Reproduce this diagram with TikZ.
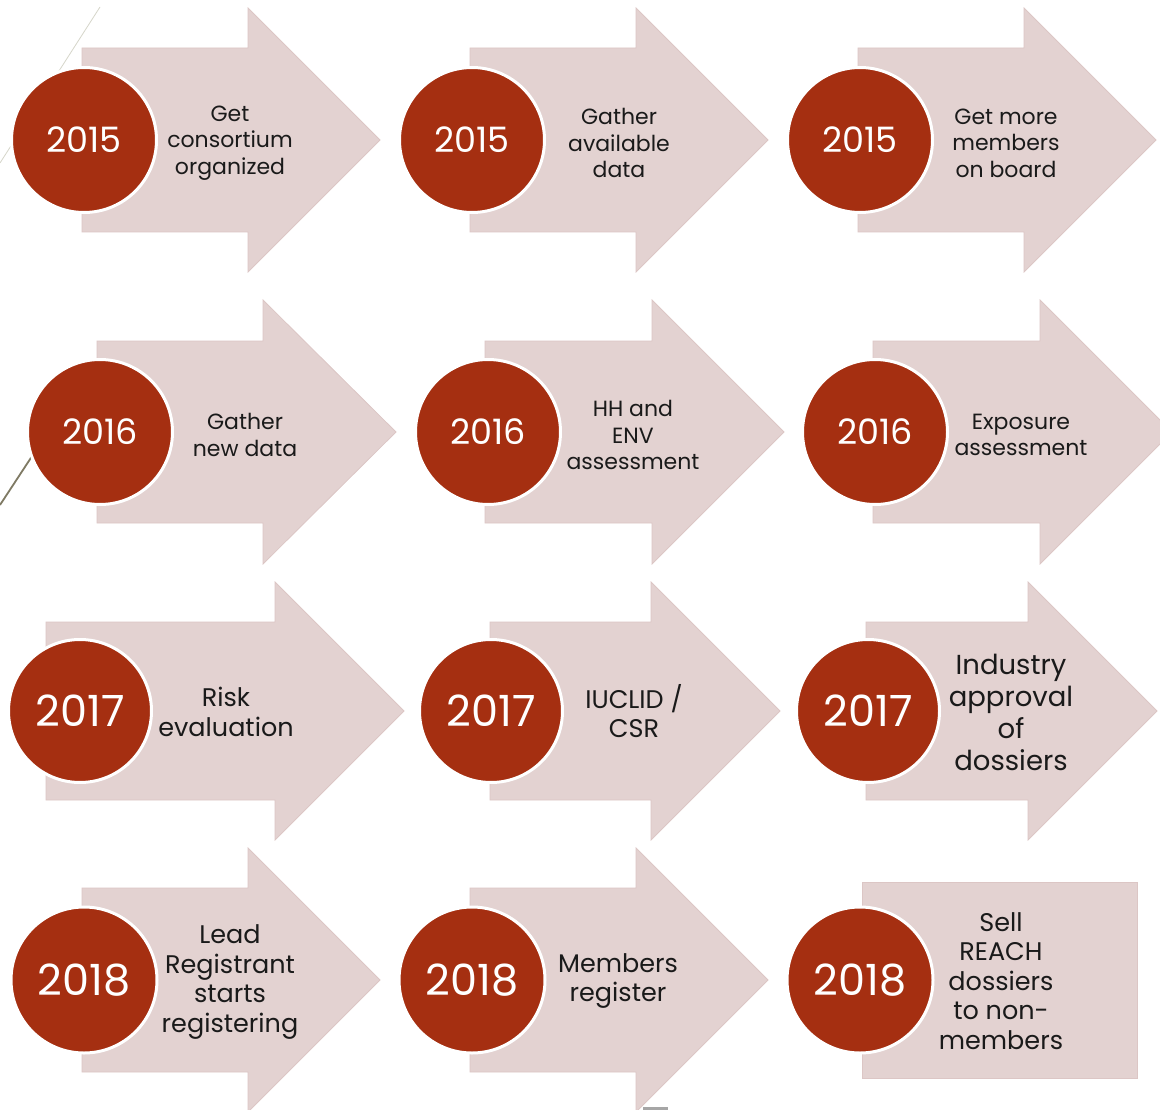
\documentclass[tikz,border=0pt]{standalone}
\usepackage{fontspec}
\setmainfont{Poppins}
\definecolor{arrowfill}{HTML}{E3D2D1}
\definecolor{arrowedge}{HTML}{DCC6C5}
\definecolor{yearred}{HTML}{A52F11}
\definecolor{strayA}{HTML}{D6D6CA}
\definecolor{strayB}{HTML}{7F7A64}
\definecolor{labeltext}{HTML}{1A1A1A}
\newcommand{\steparrow}[6]{%
  \path[arrowbody] (#1,#4-#5) -- (#2,#4-#5) -- (#2,#4-#6) -- (#3,#4)
    -- (#2,#4+#6) -- (#2,#4+#5) -- (#1,#4+#5) -- cycle;}
\tikzset{
  arrowbody/.style={fill=arrowfill, draw=arrowedge, line width=0.8pt},
  yearsmall/.style={circle, fill=yearred, draw=white, line width=3pt,
    minimum size=145pt, inner sep=0pt, text=white,
    font=\fontsize{35}{35}\selectfont},
  yearbig/.style={yearsmall, minimum size=143pt, font=\fontsize{43}{43}\selectfont},
  lab/.style={align=center, text=labeltext, inner sep=0pt,
    font=\fontsize{22}{26.5}\selectfont},
  labbig/.style={lab, font=\fontsize{25.5}{29.5}\selectfont},
  labhuge/.style={lab, font=\fontsize{27.5}{32}\selectfont},
}
\begin{document}
\begin{tikzpicture}[x=1pt, y=-1pt]
\useasboundingbox (0,0) rectangle (1160,1110);
\clip (0,0) rectangle (1160,1110);
\fill[white] (0,0) rectangle (1160,1110);
% stray lines behind
\draw[strayA, line width=0.8pt] (100,7) -- (0,163);
\draw[strayB, line width=1.8pt] (40,444) -- (0,505);
% row 1
\steparrow{82}{248}{380}{140}{92}{132}
\steparrow{470}{636}{768}{140}{92}{132}
\steparrow{858}{1024}{1156}{140}{92}{132}
% row 2
\steparrow{97}{263}{396}{432}{91}{132}
\steparrow{485}{652}{784}{432}{91}{132}
\steparrow{873}{1040}{1172}{432}{91}{132}
% row 3
\steparrow{46}{275}{404}{711}{89}{129}
\steparrow{490}{651}{780}{711}{89}{129}
\steparrow{866}{1028}{1157}{711}{89}{129}
% row 4
\steparrow{82}{248}{380}{980}{92}{132}
\steparrow{470}{636}{768}{980}{92}{132}
\path[arrowbody] (862,882) rectangle (1137,1078);
\fill[gray!70] (643,1107) rectangle (668,1110);
% circles
\node[yearsmall] (c1) at (84,140) {2015};
\node[yearsmall] (c2) at (472,140) {2015};
\node[yearsmall] (c3) at (860,140) {2015};
\node[yearsmall] (c4) at (100,432) {2016};
\node[yearsmall] (c5) at (488,432) {2016};
\node[yearsmall] (c6) at (875,432) {2016};
\node[yearbig] (c7) at (80,711) {2017};
\node[yearbig] (c8) at (491,711) {2017};
\node[yearbig] (c9) at (868,711) {2017};
\node[yearbig, minimum size=146pt] (c10) at (84,980) {2018};
\node[yearbig, minimum size=146pt] (c11) at (472,980) {2018};
\node[yearbig, minimum size=146pt] (c12) at (860,980) {2018};
% labels
\node[lab] (t1) at (230,143) {Get\\consortium\\organized};
\node[lab] (t2) at (619,143) {Gather\\available\\data};
\node[lab] (t3) at (1006,143) {Get more\\members\\on board};
\node[lab] (t4) at (245,435) {Gather\\new data};
\node[lab] (t5) at (633,435) {HH and\\ENV\\assessment};
\node[lab] (t6) at (1021,435) {Exposure\\assessment};
\node[labbig] (t7) at (226,712) {Risk\\evaluation};
\node[labbig] (t8) at (634,711) {IUCLID /\\CSR};
\node[labhuge] (t9) at (1011,712) {Industry\\approval\\of\\dossiers};
\node[labbig] (t10) at (230,982) {Lead\\Registrant\\starts\\registering};
\node[labbig] (t11) at (618,981) {Members\\register};
\node[labbig] (t12) at (1001,981) {Sell\\REACH\\dossiers\\to non-\\members};
\end{tikzpicture}
\end{document}
